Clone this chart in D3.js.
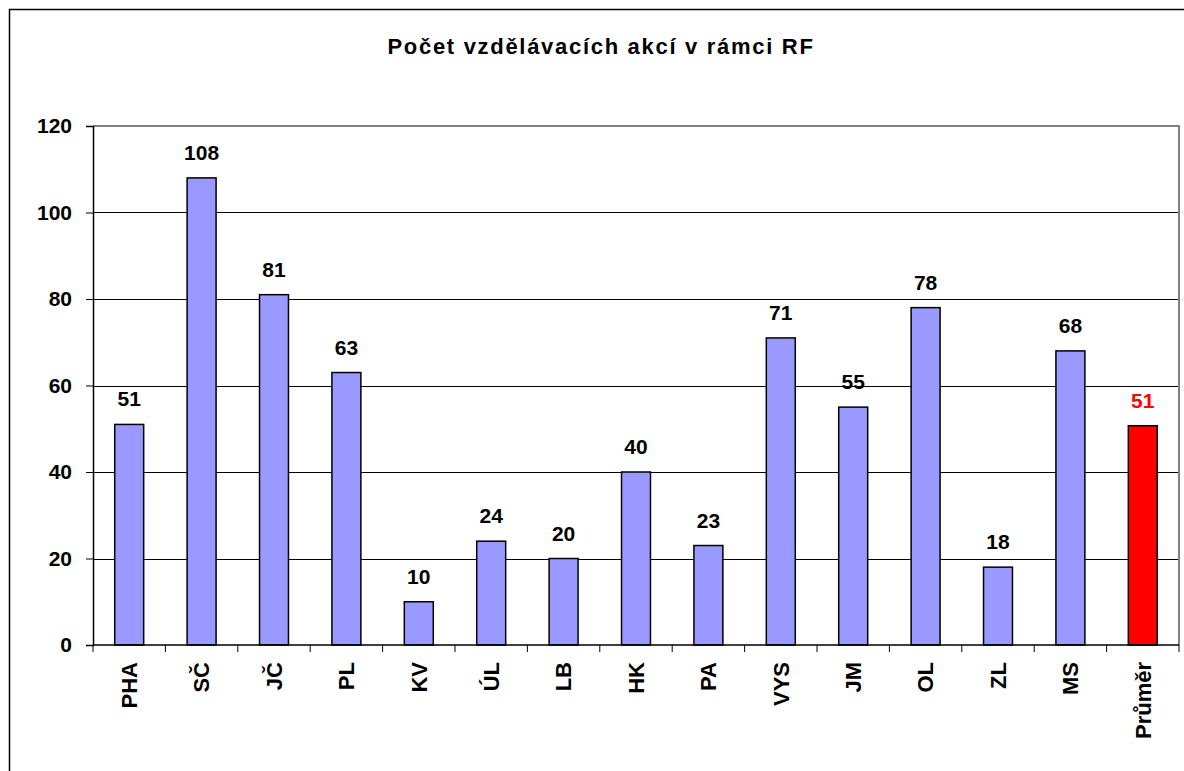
<!DOCTYPE html>
<html>
<head>
<meta charset="utf-8">
<script src="https://cdn.jsdelivr.net/npm/d3@7"></script>
<style>
  body { margin: 0; background: #fff; }
  text { font-family: Arial, "Liberation Sans", sans-serif; font-weight: bold; }
</style>
</head>
<body>
<div id="chart"></div>
<script>
const regions = ["PHA", "SČ", "JČ", "PL", "KV", "ÚL", "LB", "HK", "PA", "VYS", "JM", "OL", "ZL", "MS", "Průměr"];
const counts = [51, 108, 81, 63, 10, 24, 20, 40, 23, 71, 55, 78, 18, 68, 50.7];
const yTicks = [0, 20, 40, 60, 80, 100, 120];
const title = "Počet vzdělávacích akcí v rámci RF";

const width = 1184, height = 771;
const margin = {top: 126, right: 5, bottom: 126, left: 93};

const svg = d3.select("#chart").append("svg")
  .attr("width", width)
  .attr("height", height);

svg.append("rect")
  .attr("width", width).attr("height", height)
  .attr("fill", "white");

// outer frame (runs off the right and bottom edge)
svg.append("rect")
  .attr("x", 9.5).attr("y", 9.5)
  .attr("width", 1200).attr("height", 800)
  .attr("fill", "none")
  .attr("stroke", "#000")
  .attr("stroke-width", 1.5);

svg.append("text")
  .attr("x", 601).attr("y", 54)
  .attr("text-anchor", "middle")
  .attr("font-size", 22)
  .attr("letter-spacing", 1.7)
  .text(title);

const x = d3.scaleBand()
  .domain(regions)
  .range([margin.left, width - margin.right])
  .paddingInner(0.6)
  .paddingOuter(0.3);

const band = d3.scaleBand().domain(regions).range([margin.left, width - margin.right]);

const y = d3.scaleLinear()
  .domain([0, 120])
  .range([height - margin.bottom, margin.top]);

// grid
svg.append("g")
  .selectAll("line")
  .data(yTicks.filter(d => d > 0 && d < 120))
  .join("line")
  .attr("x1", margin.left).attr("x2", width - margin.right)
  .attr("y1", d => Math.round(y(d)) + 0.5).attr("y2", d => Math.round(y(d)) + 0.5)
  .attr("stroke", "#000")
  .attr("stroke-width", 1);

// plot border top/right
svg.append("path")
  .attr("d", `M${margin.left},${y(120)} H${width - margin.right} V${y(0)}`)
  .attr("fill", "none")
  .attr("stroke", "#808080")
  .attr("stroke-width", 2);

// y axis
const yAxis = svg.append("g")
  .attr("transform", `translate(${margin.left},0)`)
  .call(d3.axisLeft(y).tickValues(yTicks).tickSize(7).tickPadding(14));
yAxis.select(".domain").attr("stroke", "#000").attr("stroke-width", 1.5);
yAxis.selectAll(".tick line").attr("stroke", "#000");
yAxis.selectAll("text").attr("font-size", 21).attr("fill", "#000");

// bars
svg.append("g")
  .selectAll("rect")
  .data(counts)
  .join("rect")
  .attr("x", (d, i) => x(regions[i]))
  .attr("y", d => y(d))
  .attr("width", x.bandwidth())
  .attr("height", d => y(0) - y(d))
  .attr("fill", (d, i) => i === regions.length - 1 ? "#ff0000" : "#9999ff")
  .attr("stroke", "#000")
  .attr("stroke-width", 1.5);

// value labels
svg.append("g")
  .selectAll("text")
  .data(counts)
  .join("text")
  .attr("x", (d, i) => x(regions[i]) + x.bandwidth() / 2)
  .attr("y", d => y(d) - 18)
  .attr("text-anchor", "middle")
  .attr("font-size", 21)
  .attr("fill", (d, i) => i === regions.length - 1 ? "#ff0000" : "#000")
  .text(d => d3.format(".0f")(d));

// x axis
svg.append("line")
  .attr("x1", margin.left).attr("x2", width - margin.right)
  .attr("y1", y(0)).attr("y2", y(0))
  .attr("stroke", "#000").attr("stroke-width", 1.5);

svg.append("g")
  .selectAll("line")
  .data(regions.concat(["end"]))
  .join("line")
  .attr("x1", (d, i) => margin.left + i * band.bandwidth())
  .attr("x2", (d, i) => margin.left + i * band.bandwidth())
  .attr("y1", y(0)).attr("y2", y(0) + 7)
  .attr("stroke", "#000");

svg.append("g")
  .selectAll("text")
  .data(regions)
  .join("text")
  .attr("transform", d => `translate(${band(d) + band.bandwidth() / 2},${y(0) + 17}) rotate(-90)`)
  .attr("dy", "0.35em")
  .attr("text-anchor", "end")
  .attr("font-size", 22)
  .text(d => d);
</script>
</body>
</html>
